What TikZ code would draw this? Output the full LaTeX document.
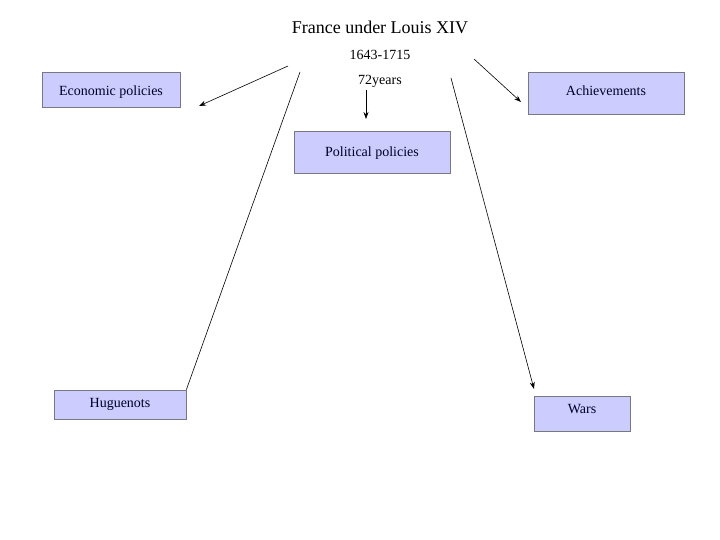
\documentclass[tikz,border=0pt]{standalone}
\usepackage{fontspec}
\setmainfont{Liberation Serif}
\usepackage{xcolor}
\usetikzlibrary{arrows.meta}
\definecolor{boxfill}{RGB}{204,204,255}
\definecolor{boxline}{RGB}{120,120,130}

\begin{document}
\begin{tikzpicture}[x=1pt, y=-1pt,
    topic/.style={draw=boxline, fill=boxfill, line width=0.8pt, inner sep=0pt, font=\fontsize{14}{16}\selectfont, text=black!85!blue},
    link/.style={-{Stealth[length=7pt, width=5pt]}, line width=0.6pt}]
  % Frame
  \useasboundingbox (0,0) rectangle (720,540);
  % Title
  \node[font=\fontsize{18}{21}\selectfont] (title) at (380,27) {France under Louis XIV};
  \node[font=\fontsize{14}{16}\selectfont] (years) at (380,55) {1643-1715};
  \node[font=\fontsize{14}{16}\selectfont] (span) at (380,81.5) {72years};
  % Boxes
  \node[topic, minimum width=138pt, minimum height=35pt] (econ) at (111,89.5) {\raisebox{-3pt}[\height][\depth]{Economic policies}};
  \node[topic, minimum width=156pt, minimum height=42pt] (achv) at (606,93) {\raisebox{4pt}{Achievements}};
  \node[topic, minimum width=156pt, minimum height=42pt] (pol) at (372,152) {\raisebox{-1.5pt}[\height][\depth]{Political policies}};
  \node[topic, minimum width=132pt, minimum height=29pt] (hug) at (120,404.5) {\raisebox{1pt}{Huguenots}};
  \node[topic, minimum width=96pt, minimum height=35pt] (wars) at (582,413.5) {\raisebox{9pt}{Wars}};
  % Connector ends
  \coordinate (e1) at (288,66);
  \coordinate (e2) at (199,106);
  \coordinate (a1) at (474,59);
  \coordinate (a2) at (521,102);
  \coordinate (p1) at (366,90);
  \coordinate (p2) at (366,119);
  \coordinate (h1) at (300,72);
  \coordinate (w1) at (451,78);
  \coordinate (w2) at (534,389);
  % Arrows
  \draw[link] (e1) -- (e2);
  \draw[link] (a1) -- (a2);
  \draw[link] (p1) -- (p2);
  \draw[line width=0.6pt] (h1) -- (hug.north east);
  \draw[link] (w1) -- (w2);
\end{tikzpicture}
\end{document}
